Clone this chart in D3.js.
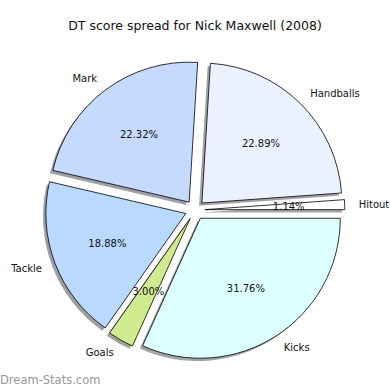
<!DOCTYPE html>
<html>
<head>
<meta charset="utf-8">
<script src="https://cdn.jsdelivr.net/npm/d3@7"></script>
<style>
  html, body { margin: 0; padding: 0; background: #fff; }
  text { font-family: "DejaVu Sans", sans-serif; }
</style>
</head>
<body>
<div id="chart"></div>
<script>
const categories = ['Hitout', 'Handballs', 'Mark', 'Tackle', 'Goals', 'Kicks'];
const values = [1.14, 22.89, 22.32, 18.88, 3.00, 31.76];
const colors = ['#ffffff', '#ebf1ff', '#c6d9ff', '#b9d9ff', '#d0eb8f', '#dcffff'];

const W = 390, H = 390;
const cx = 195, cy = 210, r = 140;
const explode = 0.07 * r;
const shadowOff = 0.02 * r;

const svg = d3.select('#chart').append('svg')
  .attr('width', W).attr('height', H);

svg.append('text')
  .attr('x', W / 2).attr('y', 30)
  .attr('text-anchor', 'middle')
  .style('font-size', '12.5px')
  .attr('fill', '#111')
  .text('DT score spread for Nick Maxwell (2008)');

// matplotlib style: start at east, go counter-clockwise
const pie = d3.pie().sort(null).value(d => d)
  .startAngle(Math.PI / 2).endAngle(Math.PI / 2 - 2 * Math.PI);
const arcs = pie(values);
const arc = d3.arc().innerRadius(0).outerRadius(r);

const mid = a => (a.startAngle + a.endAngle) / 2;
const dir = a => [Math.sin(mid(a)), -Math.cos(mid(a))];

const g = svg.append('g').attr('transform', `translate(${cx},${cy})`);

// shadows
g.selectAll('.shadow').data(arcs).join('path')
  .attr('class', 'shadow')
  .attr('d', arc)
  .attr('transform', d => {
    const [dx, dy] = dir(d);
    return `translate(${dx * explode - shadowOff},${dy * explode + shadowOff})`;
  })
  .attr('fill', (d, i) => {
    const c = d3.rgb(colors[i]);
    return d3.rgb(c.r * 0.3, c.g * 0.3, c.b * 0.3);
  })
  .attr('opacity', 0.5);

// slices
g.selectAll('.slice').data(arcs).join('path')
  .attr('class', 'slice')
  .attr('d', arc)
  .attr('transform', d => {
    const [dx, dy] = dir(d);
    return `translate(${dx * explode},${dy * explode})`;
  })
  .attr('fill', (d, i) => colors[i])
  .attr('stroke', '#000')
  .attr('stroke-width', 0.8)
  .attr('stroke-linejoin', 'round');

// category labels
g.selectAll('.label').data(arcs).join('text')
  .attr('class', 'label')
  .attr('x', d => dir(d)[0] * (explode + 1.1 * r))
  .attr('y', d => dir(d)[1] * (explode + 1.1 * r))
  .attr('dy', '0.35em')
  .attr('text-anchor', d => dir(d)[0] > 0 ? 'start' : 'end')
  .style('font-size', '10px')
  .attr('fill', '#111')
  .text((d, i) => categories[i]);

// percentage labels
g.selectAll('.pct').data(arcs).join('text')
  .attr('class', 'pct')
  .attr('x', d => dir(d)[0] * (explode + 0.6 * r))
  .attr('y', d => dir(d)[1] * (explode + 0.6 * r))
  .attr('dy', '0.35em')
  .attr('text-anchor', 'middle')
  .style('font-size', '10px')
  .attr('fill', '#111')
  .text(d => d.data.toFixed(2) + '%');

svg.append('text')
  .attr('x', 0).attr('y', 384)
  .style('font-size', '11.5px')
  .attr('fill', '#999')
  .text('Dream-Stats.com');
</script>
</body>
</html>
